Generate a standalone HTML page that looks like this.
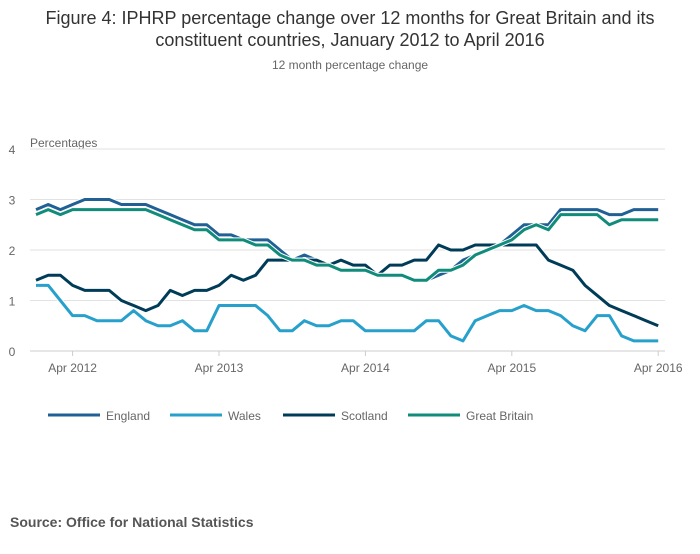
<!DOCTYPE html>
<html><head><meta charset="utf-8"><style>
body{margin:0;background:#fff;font-family:"Liberation Sans",sans-serif;}
svg text{font-family:"Liberation Sans",sans-serif;}
</style></head><body>
<svg width="700" height="549" xmlns="http://www.w3.org/2000/svg">
<text x="350" y="24" text-anchor="middle" font-size="18" fill="#333">Figure 4: IPHRP percentage change over 12 months for Great Britain and its</text>
<text x="350" y="46" text-anchor="middle" font-size="18" fill="#333">constituent countries, January 2012 to April 2016</text>
<text x="350" y="69" text-anchor="middle" font-size="12" fill="#666">12 month percentage change</text>
<text x="30" y="147" font-size="12" fill="#666">Percentages</text>
<g id="grid"></g><g id="xaxis"></g><g id="series"></g>
<g id="legend"></g>
<text x="10" y="527" font-size="14" font-weight="bold" fill="#555">Source: Office for National Statistics</text>
</svg>
<script>
const yTicks=[0,1,2,3,4];
const xTickLabels=["Apr 2012","Apr 2013","Apr 2014","Apr 2015","Apr 2016"];
const xTickIdx=[3,15,27,39,51];
const england=[2.8,2.9,2.8,2.9,3.0,3.0,3.0,2.9,2.9,2.9,2.8,2.7,2.6,2.5,2.5,2.3,2.3,2.2,2.2,2.2,2.0,1.8,1.9,1.8,1.7,1.8,1.7,1.7,1.5,1.5,1.5,1.4,1.4,1.5,1.6,1.8,1.9,2.0,2.1,2.3,2.5,2.5,2.5,2.8,2.8,2.8,2.8,2.7,2.7,2.8,2.8,2.8];
const wales=[1.3,1.3,1.0,0.7,0.7,0.6,0.6,0.6,0.8,0.6,0.5,0.5,0.6,0.4,0.4,0.9,0.9,0.9,0.9,0.7,0.4,0.4,0.6,0.5,0.5,0.6,0.6,0.4,0.4,0.4,0.4,0.4,0.6,0.6,0.3,0.2,0.6,0.7,0.8,0.8,0.9,0.8,0.8,0.7,0.5,0.4,0.7,0.7,0.3,0.2,0.2,0.2];
const scotland=[1.4,1.5,1.5,1.3,1.2,1.2,1.2,1.0,0.9,0.8,0.9,1.2,1.1,1.2,1.2,1.3,1.5,1.4,1.5,1.8,1.8,1.8,1.8,1.8,1.7,1.8,1.7,1.7,1.5,1.7,1.7,1.8,1.8,2.1,2.0,2.0,2.1,2.1,2.1,2.1,2.1,2.1,1.8,1.7,1.6,1.3,1.1,0.9,0.8,0.7,0.6,0.5];
const gb=[2.7,2.8,2.7,2.8,2.8,2.8,2.8,2.8,2.8,2.8,2.7,2.6,2.5,2.4,2.4,2.2,2.2,2.2,2.1,2.1,1.9,1.8,1.8,1.7,1.7,1.6,1.6,1.6,1.5,1.5,1.5,1.4,1.4,1.6,1.6,1.7,1.9,2.0,2.1,2.2,2.4,2.5,2.4,2.7,2.7,2.7,2.7,2.5,2.6,2.6,2.6,2.6];
const seriesNames=["England","Wales","Scotland","Great Britain"];
const seriesData=[england,wales,scotland,gb];
const colors=["#206095","#27a0cc","#003c57","#118c7b"];
const NS="http://www.w3.org/2000/svg";
const X=i=>36+i*12.2, Y=v=>351-50.5*v;
function mk(t,a,p){const e=document.createElementNS(NS,t);for(const k in a)e.setAttribute(k,a[k]);p.appendChild(e);return e;}
const grid=document.getElementById('grid');
yTicks.forEach(v=>{
 const l=mk('line',{x1:30,x2:665,y1:Y(v),y2:Y(v),stroke:v===0?'#ccc':'#e2e2e2','stroke-width':1},grid);
 
 
 const t=mk('text',{x:12,y:Y(v)+5,'font-size':12,fill:'#666','text-anchor':'middle'},grid);t.textContent=v;
 
 
});
const xa=document.getElementById('xaxis');
xTickIdx.forEach((ix,k)=>{
 const tk=mk('line',{x1:X(ix),x2:X(ix),y1:351,y2:356,stroke:'#ccc'},xa);
 
 
 const t=mk('text',{x:X(ix),y:372,'font-size':12,fill:'#666','text-anchor':'middle'},xa);t.textContent=xTickLabels[k];
 
 
});
const sg=document.getElementById('series');
seriesData.forEach((d,s)=>{
 const pts=d.map((v,i)=>X(i)+','+Y(v)).join(' ');
 const h=mk('polyline',{points:pts,fill:'none',stroke:'#fff','stroke-width':5,'stroke-linejoin':'round'},sg);
 
 
 const p=mk('polyline',{points:pts,fill:'none',stroke:colors[s],'stroke-width':3,'stroke-linejoin':'round'},sg);
 
 
});
const lg=document.getElementById('legend');
const lx=[48,170,283,408];
seriesNames.forEach((n,s)=>{
 const l=mk('line',{x1:lx[s],x2:lx[s]+52,y1:415,y2:415,stroke:colors[s],'stroke-width':3},lg);
 
 
 const t=mk('text',{x:lx[s]+58,y:420,'font-size':12,fill:'#666'},lg);t.textContent=n;
 
 
});
</script>
</body></html>
